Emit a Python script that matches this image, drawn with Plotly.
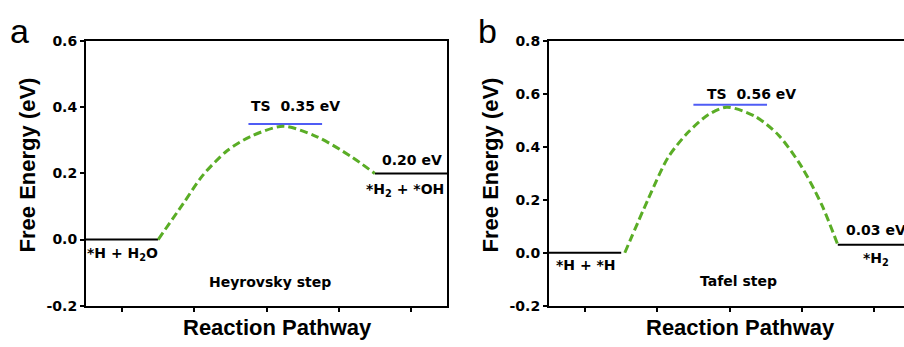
import plotly.graph_objects as go

W, H = 904, 347

# ---- data ----
a_levels = [0.0, 0.35, 0.20]          # initial, TS, final (Heyrovsky)
b_levels = [0.0, 0.56, 0.03]          # initial, TS, final (Tafel)
a_path_x = [1.0, 1.35, 1.62, 1.95, 2.27, 2.73, 3.20, 3.66, 4.0]
a_path_y = [0.0, 0.11, 0.195, 0.268, 0.311, 0.343, 0.311, 0.253, 0.20]
b_path_x = [1.05, 1.375, 1.65, 1.93, 2.21, 2.46, 2.85, 3.18, 3.50, 3.78, 4.0]
b_path_y = [0.0, 0.204, 0.361, 0.457, 0.523, 0.551, 0.517, 0.445, 0.325, 0.18, 0.03]
a_ts_span = [2.25, 3.27]
b_ts_span = [2.0, 3.02]
init_span = [0.0, 1.0]
final_span = [4.0, 5.0]
a_yticks = [-0.2, 0.0, 0.2, 0.4, 0.6]
b_yticks = [-0.2, 0.0, 0.2, 0.4, 0.6, 0.8]
x_ticks = [0.5, 1.5, 2.5, 3.5, 4.5]

GREEN = "#5aad26"
BLUE = "#4f5cf5"
TXT = "DejaVu Sans"

def px(x):
    return x / W

def py(y):
    return 1 - y / H

fig = go.Figure()

def add_panel(xa, ya, levels, path_x, path_y, ts_span):
    fig.add_trace(go.Scatter(x=init_span, y=[levels[0], levels[0]], mode="lines",
                             line=dict(color="black", width=2), xaxis=xa, yaxis=ya, showlegend=False))
    fig.add_trace(go.Scatter(x=final_span, y=[levels[2], levels[2]], mode="lines",
                             line=dict(color="black", width=2), xaxis=xa, yaxis=ya, showlegend=False))
    fig.add_trace(go.Scatter(x=ts_span, y=[levels[1], levels[1]], mode="lines",
                             line=dict(color=BLUE, width=2), xaxis=xa, yaxis=ya, showlegend=False))
    fig.add_trace(go.Scatter(x=path_x, y=path_y, mode="lines",
                             line=dict(color=GREEN, width=3, dash="8px,4px", shape="spline", smoothing=0.8),
                             xaxis=xa, yaxis=ya, showlegend=False))

add_panel("x", "y", a_levels, a_path_x, a_path_y, a_ts_span)
add_panel("x2", "y2", b_levels, b_path_x, b_path_y, b_ts_span)

ydom = [py(312), py(35)]
tickfont = dict(family=TXT, size=14, color="black", weight="bold")
common_x = dict(showline=True, linecolor="black", linewidth=2, mirror=True,
                ticks="outside", ticklen=4, tickwidth=2, tickcolor="black",
                tickvals=x_ticks, showticklabels=False, showgrid=False, zeroline=False)
common_y = dict(showline=True, linecolor="black", linewidth=2,
                ticks="outside", ticklen=4, tickwidth=2, tickcolor="black",
                tickfont=tickfont, showgrid=False, zeroline=False)

fig.update_layout(
    width=W, height=H, margin=dict(l=0, r=0, t=0, b=0),
    paper_bgcolor="white", plot_bgcolor="white",
    xaxis=dict(domain=[px(86), px(447)], range=[0, 5], anchor="y", **common_x),
    yaxis=dict(domain=ydom, range=[-0.2, 0.6], tickvals=a_yticks,
               ticktext=["%.1f" % v for v in a_yticks], mirror=True, anchor="x", **common_y),
    xaxis2=dict(domain=[px(549), 1.0], range=[0, 355 / 72.2], anchor="y2", **common_x),
    yaxis2=dict(domain=ydom, range=[-0.2, 0.8], tickvals=b_yticks,
                ticktext=["%.1f" % v for v in b_yticks], mirror=False, anchor="x2", **common_y),
)

ann = []
def t(text, x, y, xref, yref, size=14, family=TXT, bold=True, xanchor="center", yanchor="middle", angle=0):
    ann.append(dict(text=("<b>%s</b>" % text) if bold else text, x=x, y=y, xref=xref, yref=yref,
                    showarrow=False, xanchor=xanchor, yanchor=yanchor, textangle=angle,
                    font=dict(family=family, size=size, color="black")))

# panel a texts
t("TS  %.2f eV" % a_levels[1], 2.9, 0.405, "x", "y")
t("%.2f eV" % a_levels[2], 4.52, 0.242, "x", "y")
t("*H<sub>2</sub> + *OH", 4.42, 0.15, "x", "y")
t("*H + H<sub>2</sub>O", 0.50, -0.043, "x", "y")
t("Heyrovsky step", 2.55, -0.128, "x", "y")
# panel b texts
t("TS  %.2f eV" % b_levels[1], 2.80, 0.601, "x2", "y2")
t("%.2f eV" % b_levels[2], 4.08, 0.085, "x2", "y2", xanchor="left")
t("*H<sub>2</sub>", 4.53, -0.022, "x2", "y2")
t("*H + *H", 0.51, -0.048, "x2", "y2")
t("Tafel step", 2.62, -0.106, "x2", "y2")

# axis titles
AX = "Liberation Sans"
t("Free Energy (eV)", px(27), py(165), "paper", "paper", size=22, family=AX, angle=-90)
t("Free Energy (eV)", px(490), py(165), "paper", "paper", size=22, family=AX, angle=-90)
t("Reaction Pathway", px(277), py(335), "paper", "paper", size=22, family=AX)
t("Reaction Pathway", px(740), py(335), "paper", "paper", size=22, family=AX)
# panel letters
t("a", px(19), py(24), "paper", "paper", size=34, family=AX, bold=False)
t("b", px(487), py(24), "paper", "paper", size=34, family=AX, bold=False)

fig.update_layout(annotations=ann)
fig.write_html("out.html")
